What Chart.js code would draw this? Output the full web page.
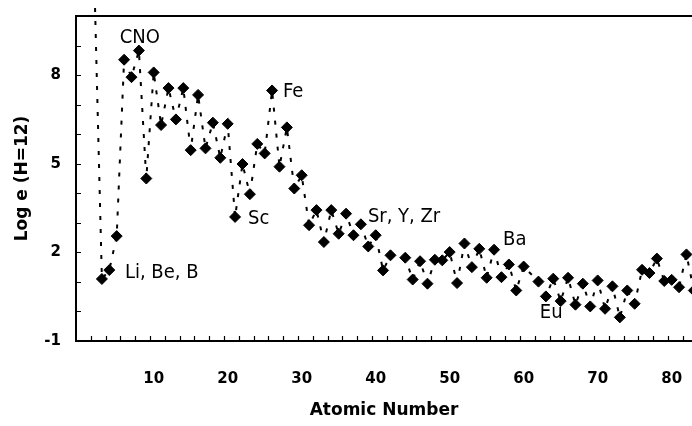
<!DOCTYPE html>
<html>
<head>
<meta charset="utf-8">
<title>Solar abundances</title>
<script src="https://cdn.jsdelivr.net/npm/chart.js@4.4.1/dist/chart.umd.min.js"></script>
<style>
  html, body { margin: 0; padding: 0; background: #fff; overflow: hidden; }
  #wrap { width: 692px; height: 426px; }
</style>
</head>
<body>
<div id="wrap"><canvas id="abund" width="692" height="426"></canvas></div>
<script>
// atomic number and log abundance (H = 12); Tc (43) and Pm (61) have no value
const atomicNumbers = [
  1, 2, 3, 4, 5, 6, 7, 8, 9, 10,
  11, 12, 13, 14, 15, 16, 17, 18, 19, 20,
  21, 22, 23, 24, 25, 26, 27, 28, 29, 30,
  31, 32, 33, 34, 35, 36, 37, 38, 39, 40,
  41, 42, 44, 45, 46, 47, 48, 49, 50,
  51, 52, 53, 54, 55, 56, 57, 58, 59, 60,
  62, 63, 64, 65, 66, 67, 68, 69, 70,
  71, 72, 73, 74, 75, 76, 77, 78, 79, 80,
  81, 82, 83
];
const logAbundance = [
  12.0, 11.0, 1.1, 1.4, 2.55, 8.52, 7.93, 8.83, 4.5, 8.09,
  6.31, 7.56, 6.5, 7.56, 5.46, 7.33, 5.52, 6.39, 5.2, 6.35,
  3.2, 4.99, 3.97, 5.67, 5.35, 7.48, 4.9, 6.23, 4.16, 4.61,
  2.92, 3.43, 2.35, 3.43, 2.63, 3.31, 2.58, 2.95, 2.2, 2.58,
  1.39, 1.9, 1.82, 1.08, 1.7, 0.94, 1.75, 1.73, 2.01,
  0.96, 2.3, 1.5, 2.12, 1.14, 2.09, 1.16, 1.59, 0.71, 1.52,
  1.01, 0.51, 1.11, 0.35, 1.14, 0.23, 0.94, 0.17, 1.05,
  0.09, 0.85, -0.2, 0.71, 0.26, 1.41, 1.3, 1.79, 1.03, 1.07,
  0.82, 1.93, 0.71
];
const xTickLabels = [10, 20, 30, 40, 50, 60, 70, 80];
const yTickLabels = [-1, 2, 5, 8];

// element group notes, placed relative to the point they describe
const notes = [
  { text: 'CNO', z: 8, dx: 1, dy: -8, align: 'center' },
  { text: 'Li, Be, B', z: 3, dx: 23, dy: -1 },
  { text: 'Fe', z: 26, dx: 11, dy: 6.5 },
  { text: 'Sc', z: 21, dx: 13, dy: 7 },
  { text: 'Sr, Y, Zr', z: 38, dx: 7, dy: -2 },
  { text: 'Ba', z: 56, dx: 9, dy: -4.5 },
  { text: 'Eu', z: 63, dx: -6, dy: 21.5 }
];

const boldFont = '"DejaVu Sans", sans-serif';

// frame on three sides plus small inward tick marks
const frameTicks = {
  id: 'frameTicks',
  afterDraw(chart) {
    const { ctx, chartArea: a, scales: { x, y } } = chart;
    ctx.save();
    ctx.strokeStyle = '#000';
    ctx.lineWidth = 2;
    ctx.beginPath();
    ctx.moveTo(a.right + 2, a.top);
    ctx.lineTo(a.left, a.top);
    ctx.lineTo(a.left, a.bottom);
    ctx.lineTo(a.right + 2, a.bottom);
    ctx.stroke();

    ctx.lineWidth = 1.2;
    ctx.beginPath();
    y.ticks.forEach(t => {
      const py = Math.round(y.getPixelForValue(t.value)) + 0.5;
      ctx.moveTo(a.left, py);
      ctx.lineTo(a.left + 5, py);
    });
    for (let z = 1.5; z < x.max; z += 2) {
      const px = Math.round(x.getPixelForValue(z)) + 0.5;
      ctx.moveTo(px, a.bottom);
      ctx.lineTo(px, a.bottom - 5);
    }
    ctx.stroke();
    ctx.restore();
  }
};

const elementNotes = {
  id: 'elementNotes',
  afterDatasetsDraw(chart) {
    const { ctx, scales: { x, y } } = chart;
    ctx.save();
    ctx.font = '20px "DejaVu Sans Condensed", "DejaVu Sans", sans-serif';
    ctx.fillStyle = '#000';
    ctx.textBaseline = 'alphabetic';
    notes.forEach(n => {
      const i = atomicNumbers.indexOf(n.z);
      ctx.textAlign = n.align || 'left';
      ctx.fillText(n.text,
        x.getPixelForValue(n.z) + n.dx,
        y.getPixelForValue(logAbundance[i]) + n.dy);
    });
    ctx.restore();
  }
};

new Chart(document.getElementById('abund'), {
  type: 'line',
  data: {
    datasets: [{
      data: atomicNumbers.map((z, i) => ({ x: z, y: logAbundance[i] })),
      borderColor: '#000',
      borderWidth: 2,
      borderDash: [4, 9],
      tension: 0,
      pointStyle: 'rectRot',
      pointRadius: 5.5,
      pointBorderWidth: 1,
      pointBackgroundColor: '#000',
      pointBorderColor: '#000',
      clip: { left: 0, top: 12, right: 20, bottom: 0 }
    }]
  },
  options: {
    responsive: false,
    animation: false,
    // the plot runs right up to the canvas edge, points there get cut
    layout: { autoPadding: false, padding: { top: 16, right: 0, left: 0, bottom: 0 } },
    plugins: {
      legend: { display: false },
      tooltip: { enabled: false }
    },
    scales: {
      x: {
        type: 'linear',
        min: -0.5,
        max: 82.75,
        grid: { display: false, drawTicks: false },
        border: { display: false },
        afterBuildTicks: s => { s.ticks = xTickLabels.map(v => ({ value: v })); },
        afterFit: s => {
          s.height = 85;
          s.paddingLeft = 0;
          s.paddingRight = 0;
        },
        ticks: {
          padding: 29,
          color: '#000',
          font: { family: boldFont, size: 15, weight: 'bold' },
          callback: v => String(v)
        },
        title: {
          display: true,
          text: 'Atomic Number',
          color: '#000',
          padding: { top: 0, bottom: 5 },
          font: { family: boldFont, size: 17, weight: 'bold' }
        }
      },
      y: {
        min: -1,
        max: 10,
        grid: { display: false, drawTicks: false },
        border: { display: false },
        afterFit: s => {
          s.width = 76;
          s.paddingTop = 0;
          s.paddingBottom = 0;
        },
        ticks: {
          stepSize: 1,
          padding: 15,
          color: '#000',
          font: { family: boldFont, size: 15, weight: 'bold' },
          callback: v => (yTickLabels.includes(v) ? String(v) : '')
        },
        title: {
          display: true,
          text: 'Log e (H=12)',
          color: '#000',
          padding: { top: 12, bottom: 0 },
          font: { family: boldFont, size: 17, weight: 'bold' }
        }
      }
    }
  },
  plugins: [frameTicks, elementNotes]
});
</script>
</body>
</html>
